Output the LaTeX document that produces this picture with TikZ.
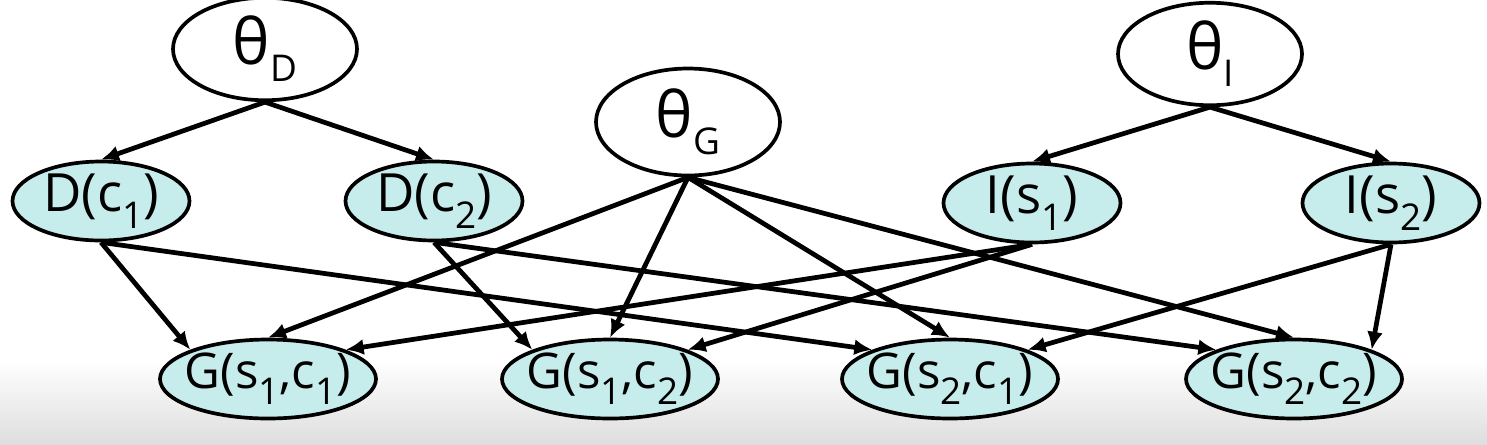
\documentclass[tikz,border=0pt]{standalone}
\usepackage{fontspec}
\setmainfont{Open Sans}
\usepackage{xcolor}
\usepackage{tikz}
\usetikzlibrary{shapes, arrows.meta}

\definecolor{nodecyan}{RGB}{198,236,236}
\newcommand{\lowsub}[1]{\raisebox{-0.6ex}{\fontsize{21}{21}\selectfont #1}}
\newcommand{\bigtheta}{{\fontsize{36}{36}\selectfont θ}}
\newcommand{\nowidth}[1]{\makebox[0pt]{#1}}

\begin{document}
\begin{tikzpicture}[font=\fontsize{30}{32}\selectfont,
  param/.style={ellipse, draw, line width=2.1pt, fill=white, inner sep=0pt, minimum width=3.68cm, minimum height=2.05cm},
  var/.style={ellipse, draw, line width=2.1pt, fill=nodecyan, inner sep=0pt, minimum width=3.54cm, minimum height=1.58cm},
  gvar/.style={var, minimum width=4.32cm, font=\fontsize{28}{30}\selectfont},
  edge/.style={line width=2.7pt, -{Latex[length=0.36cm,width=0.32cm]}}]
\useasboundingbox (0,0) rectangle (29.74,-8.88);
\shade[top color=white, bottom color=black!13] (0,-7.2) rectangle (29.74,-8.88);
\node[param] (thD) at (5.30,-0.98) {\nowidth{\bigtheta\lowsub{D}}};
\node[param, minimum height=2.14cm] (thG) at (13.76,-2.44) {\nowidth{\bigtheta\lowsub{G}}};
\node[param] (thI) at (24.20,-1.08) {\nowidth{\bigtheta\lowsub{I}}};
\node[var] (Dc1) at (2.02,-4.02) {\nowidth{D(c\lowsub{1})}};
\node[var] (Dc2) at (8.68,-4.02) {\nowidth{D(c\lowsub{2})}};
\node[var] (Is1) at (20.64,-4.06) {\nowidth{I(s\lowsub{1})}};
\node[var] (Is2) at (27.82,-4.06) {\nowidth{I(s\lowsub{2})}};
\node[gvar] (G11) at (5.36,-7.58) {\nowidth{G(s\lowsub{1},c\lowsub{1})}};
\node[gvar] (G12) at (12.20,-7.58) {\nowidth{G(s\lowsub{1},c\lowsub{2})}};
\node[gvar] (G21) at (19.00,-7.58) {\nowidth{G(s\lowsub{2},c\lowsub{1})}};
\node[gvar] (G22) at (25.88,-7.58) {\nowidth{G(s\lowsub{2},c\lowsub{2})}};
\draw[edge] (thD.south) -- (Dc1.north);
\draw[edge] (thD.south) -- (Dc2.north);
\draw[edge] (thI.south) -- (Is1.north);
\draw[edge] (thI.south) -- (Is2.north);
\foreach \g in {G11,G12,G21,G22}
\draw[edge] (thG.south) -- (\g.north);
\draw[edge] (Dc1.south) -- (G11.north west);
\draw[edge] (Dc1.south) -- (G21.north west);
\draw[edge] (Dc2.south) -- (G12.north west);
\draw[edge] (Dc2.south) -- (G22.north west);
\draw[edge] (Is1.south) -- (G11.north east);
\draw[edge] (Is1.south) -- (G12.north east);
\draw[edge] (Is2.south) -- (G21.north east);
\draw[edge] (Is2.south) -- (G22.north east);
\end{tikzpicture}
\end{document}
